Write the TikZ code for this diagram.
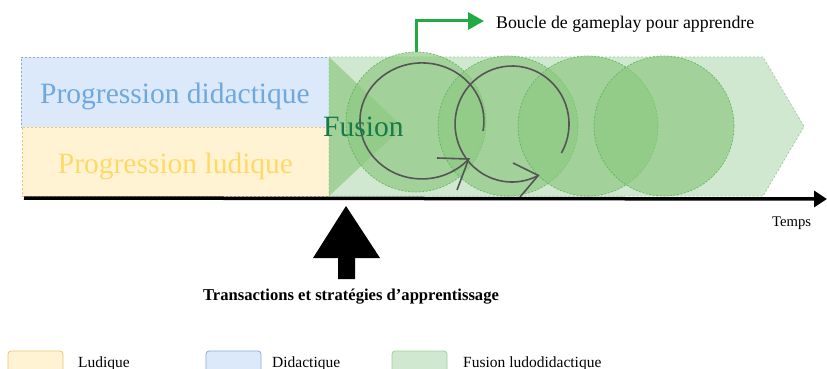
\documentclass[tikz,border=0pt]{standalone}
\usepackage{fontspec}
\setmainfont{Liberation Serif}
\usetikzlibrary{arrows.meta}
\definecolor{blueF}{HTML}{DCE9FA}
\definecolor{blueB}{HTML}{8FA9D6}
\definecolor{blueT}{HTML}{6FA8DC}
\definecolor{yelF}{HTML}{FFF3D4}
\definecolor{yelB}{HTML}{E6C66E}
\definecolor{yelT}{HTML}{FFD966}
\definecolor{pentF}{HTML}{CFE8CF}
\definecolor{pentB}{HTML}{9FCF9F}
\definecolor{circF}{HTML}{8CC880}
\definecolor{circB}{HTML}{5DB35D}
\definecolor{fusC}{HTML}{197A48}
\definecolor{loopC}{HTML}{555555}
\definecolor{arrG}{HTML}{22AA44}
\begin{document}
\begin{tikzpicture}[x=1pt,y=-1pt,
  zone/.style={rectangle, draw, dash pattern=on 2pt off 2pt, line width=0.8pt, inner sep=0pt},
  lbl/.style={inner sep=0pt, anchor=base, font=\fontsize{29.5}{32}\selectfont},
  circ/.style={circle, minimum size=140pt, inner sep=0pt, fill=circF, fill opacity=0.67,
    draw=circB, draw opacity=0.9, dash pattern=on 2pt off 1.5pt, line width=0.7pt},
  loopline/.style={draw=loopC, line width=1.6pt},
  legbox/.style={rectangle, rounded corners=3pt, minimum width=55pt, minimum height=30pt,
    line width=0.8pt, inner sep=0pt},
  legtxt/.style={inner sep=0pt, anchor=base west, font=\fontsize{15.5}{18}\selectfont}]
\useasboundingbox (0,0) rectangle (827,369);

% zones
\node[zone, draw=blueB, fill=blueF, minimum width=308pt, minimum height=70pt] (did) at (175,92) {};
\node[zone, draw=yelB, fill=yelF, minimum width=307pt, minimum height=69pt] (lud) at (175.5,161.5) {};
\node[lbl, text=blueT] (tdid) at (175,103) {Progression didactique};
\node[lbl, text=yelT] (tlud) at (175.5,173) {Progression ludique};

% fusion pentagon
\draw[fill=pentF, draw=pentB, dash pattern=on 2pt off 2pt, line width=0.8pt]
  (329,57) -- (763,57) -- (804,126.5) -- (763,196) -- (329,196) -- cycle;
\fill[circF, fill opacity=0.67] (329,57) -- (403,127) -- (329,196) -- cycle;

% circles
\node[circ] (c1) at (416,122) {};
\node[circ] (c2) at (508,126) {};
\node[circ] (c3) at (588,126) {};
\node[circ] (c4) at (664,126) {};

% loops
\draw[loopline] (483,131) arc[start angle=10, end angle=-319, x radius=62, y radius=58];
\draw[loopline] (437,158) -- (468.7,159) -- (457,190);
\draw[loopline] (561.4,153) arc[start angle=30, end angle=-297.5, x radius=57, y radius=58];
\draw[loopline] (513,163) -- (538.3,175.4) -- (520,197);

\node[lbl, anchor=base west, text=fusC] (fusion) at (323,136) {Fusion};

% gameplay arrow
\coordinate (gend) at (484,21);
\draw[line width=3pt, draw=arrG, -{Triangle[length=16pt,width=17pt]}] (c1.north) |- (gend);
\node[inner sep=0pt, anchor=base west, font=\fontsize{17.8}{20}\selectfont] (boucle) at (496,29) {Boucle de gameplay pour apprendre};

% time axis
\coordinate (ax0) at (24,198);
\coordinate (ax1) at (827,199);
\draw[line width=3.5pt, -{Triangle[length=13pt,width=16pt]}] (ax0) -- (ax1);
\node[inner sep=0pt, anchor=base west, font=\fontsize{14.7}{17}\selectfont] (temps) at (772,226) {Temps};

% big arrow
\fill (346,206) -- (380,258) -- (355,258) -- (355,279) -- (338,279) -- (338,258) -- (313,258) -- cycle;
\node[inner sep=0pt, anchor=base, font=\bfseries\fontsize{16.6}{19}\selectfont] (trans) at (351,300) {Transactions et stratégies d’apprentissage};

% legend
\node[legbox, draw=yelB, fill=yelF] (lg1) at (35.5,366) {};
\node[legbox, draw=blueB, fill=blueF] (lg2) at (233.5,366) {};
\node[legbox, draw=pentB, fill=pentF] (lg3) at (419.5,366) {};
\node[legtxt] (lt1) at (78,367) {Ludique};
\node[legtxt] (lt2) at (272,367) {Didactique};
\node[legtxt] (lt3) at (463,367) {Fusion ludodidactique};
\end{tikzpicture}
\end{document}
